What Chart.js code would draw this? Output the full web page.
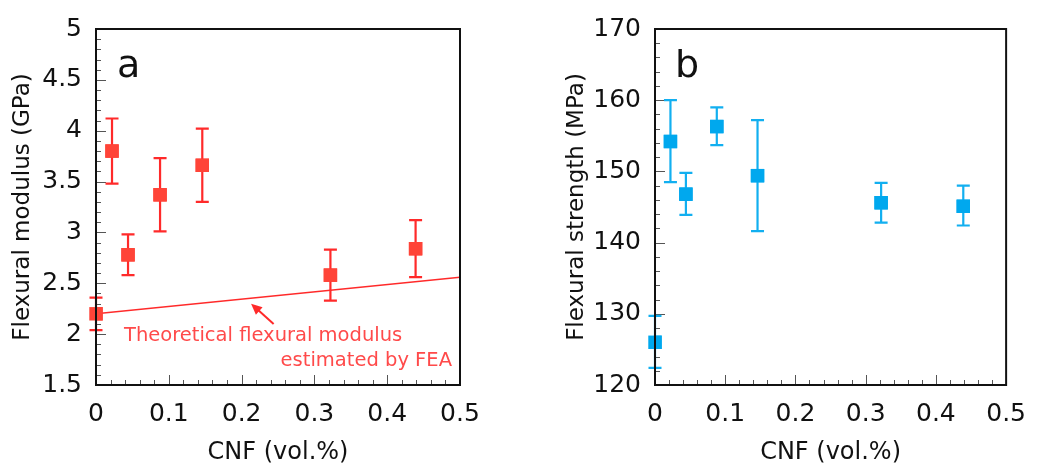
<!DOCTYPE html>
<html>
<head>
<meta charset="utf-8">
<script src="https://cdn.jsdelivr.net/npm/chart.js@4"></script>
<style>
  body { margin: 0; background: #fff; }
  .wrap { position: absolute; top: 0; width: 520px; height: 468px; }
</style>
</head>
<body>
<div class="wrap" style="left:0"><canvas id="chartA"></canvas></div>
<div class="wrap" style="left:520px"><canvas id="chartB"></canvas></div>
<script>
// CNF content (vol.%)
const cnf = [0, 0.022, 0.044, 0.088, 0.146, 0.322, 0.439];

// (a) flexural modulus, GPa
const modulus = [2.2, 3.8, 2.78, 3.37, 3.66, 2.58, 2.84];
const modulusHigh = [2.36, 4.12, 2.98, 3.73, 4.02, 2.83, 3.12];
const modulusLow = [2.04, 3.48, 2.58, 3.01, 3.3, 2.33, 2.56];

// theoretical modulus by FEA
const feaX = [0, 0.5];
const feaY = [2.2, 2.56];

// (b) flexural strength, MPa
const strength = [126, 154.2, 146.8, 156.3, 149.4, 145.6, 145.1];
const strengthHigh = [129.7, 160, 149.8, 159, 157.2, 148.4, 148];
const strengthLow = [122.4, 148.5, 143.9, 153.7, 141.6, 142.8, 142.4];

const xTicks = [0, 0.1, 0.2, 0.3, 0.4, 0.5];

const RED = '#ff2a2a';
const RED_MARK = '#ff4438';
const BLUE = '#12aff0';
const BLUE_MARK = '#00a8ee';
const FONT = "'DejaVu Sans', Verdana, sans-serif";

// inward ticks, box and error bars
const framePlugin = {
  id: 'frame',
  beforeDatasetsDraw(chart, args, opts) {
    const { ctx, chartArea: a, scales: { x, y } } = chart;
    ctx.save();
    ctx.strokeStyle = '#555';
    ctx.lineWidth = 1;
    // x ticks
    for (let v = 0; v <= 0.5001; v += 0.02) {
      const major = Math.abs(v * 10 - Math.round(v * 10)) < 1e-6;
      const px = Math.round(x.getPixelForValue(v)) + 0.5;
      ctx.beginPath();
      ctx.moveTo(px, a.bottom);
      ctx.lineTo(px, a.bottom - (major ? 10 : 5));
      ctx.stroke();
    }
    // y ticks
    const step = opts.minor;
    for (let v = y.min; v <= y.max + 1e-6; v += step) {
      const k = (v - y.min) / opts.major;
      const major = Math.abs(k - Math.round(k)) < 1e-6;
      const py = Math.round(y.getPixelForValue(v)) + 0.5;
      ctx.beginPath();
      ctx.moveTo(a.left, py);
      ctx.lineTo(a.left + (major ? 10 : 5), py);
      ctx.stroke();
    }
    ctx.restore();
  },
  afterDatasetsDraw(chart, args, opts) {
    const { ctx, chartArea: a, scales: { x, y } } = chart;
    const ds = chart.data.datasets.find(d => d.errHigh);
    ctx.save();
    ctx.strokeStyle = opts.errColor;
    ctx.lineWidth = 2.2;
    ds.data.forEach((p, i) => {
      const px = x.getPixelForValue(p.x);
      const top = y.getPixelForValue(ds.errHigh[i]);
      const bot = y.getPixelForValue(ds.errLow[i]);
      ctx.beginPath();
      ctx.moveTo(px, top); ctx.lineTo(px, bot);
      ctx.moveTo(px - 6.5, top); ctx.lineTo(px + 6.5, top);
      ctx.moveTo(px - 6.5, bot); ctx.lineTo(px + 6.5, bot);
      ctx.stroke();
    });
    // redraw markers on top of bars
    chart.getDatasetMeta(chart.data.datasets.indexOf(ds)).data.forEach(el => el.draw(ctx, a));
    // box
    ctx.strokeStyle = '#111';
    ctx.lineWidth = 2;
    ctx.strokeRect(a.left, a.top, a.right - a.left, a.bottom - a.top);
    // panel letter
    ctx.fillStyle = '#111';
    ctx.font = '38px ' + FONT;
    ctx.textBaseline = 'alphabetic';
    ctx.textAlign = 'left';
    ctx.fillText(opts.letter, a.left + opts.letterDx, a.top + 48);
    ctx.restore();
  }
};

const annotationPlugin = {
  id: 'feaNote',
  afterDatasetsDraw(chart) {
    const { ctx, scales: { x, y } } = chart;
    ctx.save();
    ctx.fillStyle = RED;
    ctx.strokeStyle = RED;
    ctx.lineWidth = 2;
    const tipX = x.getPixelForValue(0.213), tipY = y.getPixelForValue(2.3);
    const tailX = x.getPixelForValue(0.244), tailY = y.getPixelForValue(2.1);
    const ang = Math.atan2(tipY - tailY, tipX - tailX);
    ctx.beginPath();
    ctx.moveTo(tailX, tailY);
    ctx.lineTo(tipX - 8 * Math.cos(ang), tipY - 8 * Math.sin(ang));
    ctx.stroke();
    ctx.beginPath();
    ctx.moveTo(tipX, tipY);
    ctx.lineTo(tipX - 11 * Math.cos(ang) + 5 * Math.sin(ang), tipY - 11 * Math.sin(ang) - 5 * Math.cos(ang));
    ctx.lineTo(tipX - 11 * Math.cos(ang) - 5 * Math.sin(ang), tipY - 11 * Math.sin(ang) + 5 * Math.cos(ang));
    ctx.closePath();
    ctx.fill();
    ctx.fillStyle = '#ff4a4a';
    ctx.font = '19.5px ' + FONT;
    ctx.textBaseline = 'middle';
    ctx.textAlign = 'left';
    ctx.fillText('Theoretical flexural modulus', x.getPixelForValue(0.0385), y.getPixelForValue(1.98));
    ctx.textAlign = 'right';
    ctx.fillText('estimated by FEA', x.getPixelForValue(0.489), y.getPixelForValue(1.74));
    ctx.restore();
  }
};

function makeChart(id, cfg) {
  const xs = {
    type: 'linear', min: 0, max: 0.5,
    afterBuildTicks: s => { s.ticks = xTicks.map(v => ({ value: v })); },
    afterFit: s => { s.height = 83; },
    grid: { display: false, drawTicks: false },
    border: { display: false },
    ticks: { padding: 14, color: '#111', font: { family: FONT, size: 25 }, maxRotation: 0,
      callback: v => String(v) },
    title: { display: true, text: 'CNF (vol.%)', color: '#111', font: { family: FONT, size: 24 },
      padding: { top: 0, bottom: 1 } }
  };
  const ys = {
    type: 'linear', min: cfg.yMin, max: cfg.yMax,
    afterBuildTicks: s => { s.ticks = cfg.yTicks.map(v => ({ value: v })); },
    afterFit: s => { s.width = cfg.yWidth; },
    grid: { display: false, drawTicks: false },
    border: { display: false },
    ticks: { padding: 14, color: '#111', font: { family: FONT, size: 25 }, callback: v => String(v) },
    title: { display: true, text: cfg.yTitle, color: '#111', font: { family: FONT, size: 23 },
      padding: { top: cfg.yTitlePad, bottom: 0 } }
  };
  return new Chart(document.getElementById(id), {
    type: 'scatter',
    data: { datasets: cfg.datasets },
    options: {
      responsive: true,
      maintainAspectRatio: false,
      animation: false,
      layout: { padding: { left: 0, right: cfg.padRight, top: 21, bottom: 0 } },
      plugins: {
        legend: { display: false },
        tooltip: { enabled: false },
        frame: cfg.frame
      },
      scales: { x: xs, y: ys }
    },
    plugins: cfg.plugins
  });
}

makeChart('chartA', {
  yMin: 1.5, yMax: 5, yTicks: [1.5, 2, 2.5, 3, 3.5, 4, 4.5, 5],
  yWidth: 96, padRight: 60, yTitle: 'Flexural modulus (GPa)', yTitlePad: 9,
  frame: { minor: 0.1, major: 0.5, letter: 'a', errColor: RED, letterDx: 21 },
  plugins: [framePlugin, annotationPlugin],
  datasets: [
    {
      type: 'line',
      data: feaX.map((v, i) => ({ x: v, y: feaY[i] })),
      borderColor: RED, borderWidth: 1.5, pointRadius: 0, fill: false
    },
    {
      data: cnf.map((v, i) => ({ x: v, y: modulus[i] })),
      errHigh: modulusHigh, errLow: modulusLow,
      pointStyle: 'rect', pointRadius: 9.5, backgroundColor: RED_MARK, borderWidth: 0
    }
  ]
});

makeChart('chartB', {
  yMin: 120, yMax: 170, yTicks: [120, 130, 140, 150, 160, 170],
  yWidth: 135, padRight: 21, yTitle: 'Flexural strength (MPa)', yTitlePad: 43,
  frame: { minor: 2, major: 10, letter: 'b', errColor: BLUE, letterDx: 20 },
  plugins: [framePlugin],
  datasets: [
    {
      data: cnf.map((v, i) => ({ x: v, y: strength[i] })),
      errHigh: strengthHigh, errLow: strengthLow,
      pointStyle: 'rect', pointRadius: 9.5, backgroundColor: BLUE_MARK, borderWidth: 0
    }
  ]
});
</script>
</body>
</html>
